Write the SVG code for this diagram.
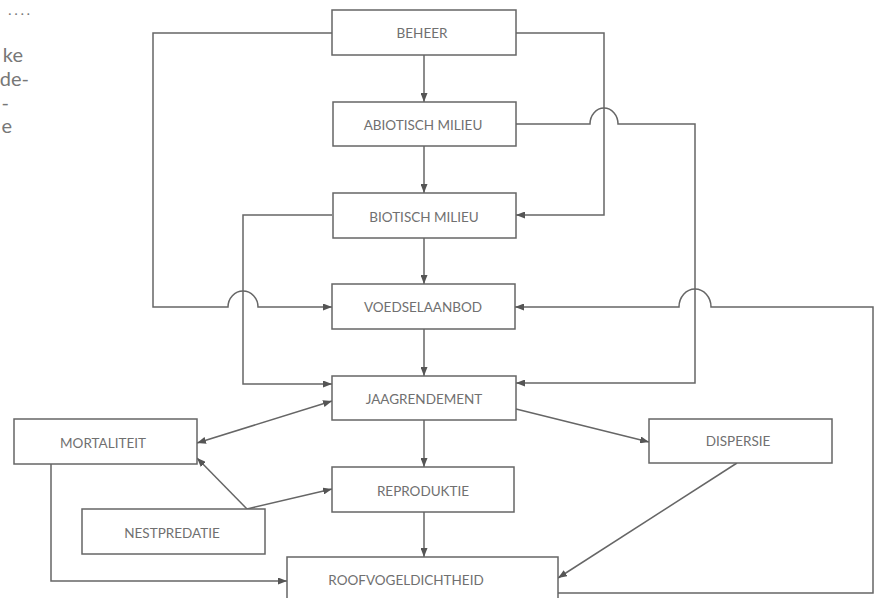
<svg xmlns="http://www.w3.org/2000/svg" width="875" height="598" viewBox="0 0 875 598">
<defs>
<marker id="ah" viewBox="0 0 9 7" refX="9" refY="3.5" markerWidth="9" markerHeight="7" markerUnits="userSpaceOnUse" orient="auto-start-reverse">
<path d="M0,0 L9,3.5 L0,7 z" fill="#555"/>
</marker>
<style>
.box{fill:#fff;stroke:#666;stroke-width:1.5}
.lbl{font-family:Lato,"Open Sans","Liberation Sans",sans-serif;font-size:13.5px;fill:#707070;text-anchor:middle}
.side{font-family:Lato,"Open Sans","Liberation Sans",sans-serif;font-size:20px;fill:#777;text-anchor:end}
.c{fill:none;stroke:#666;stroke-width:1.5}
.a{marker-end:url(#ah)}
</style>
</defs>
<rect width="875" height="598" fill="#fff"/>
<g id="side-text">
<text class="side" x="30" y="18" style="font-size:12px">· · · ·</text>
<text class="side" x="23" y="62">ke</text>
<text class="side" x="29" y="86">de-</text>
<text class="side" x="9" y="110">-</text>
<text class="side" x="12" y="133">e</text>
</g>
<g id="connectors">
<path class="c a" d="M424,55 V102"/>
<path class="c a" d="M424,146 V193"/>
<path class="c a" d="M424,238 V284"/>
<path class="c a" d="M424,329 V376"/>
<path class="c a" d="M424,420 V467"/>
<path class="c a" d="M424,512 V557"/>
<path class="c a" d="M332,33 H153 V307 H228 A15,16 0 0 1 258,307 H332"/>
<path class="c a" d="M516,33 H604 V215 H516"/>
<path class="c a" d="M516,124 H590 A14,16 0 0 1 618,124 H695 V383 H516"/>
<path class="c a" d="M332,215 H243 V384 H332"/>
<path class="c a" d="M558,593 H873 V307 H711 A16,18 0 0 0 679,307 H515"/>
<path class="c a" d="M332,401 L197,443" marker-start="url(#ah)"/>
<path class="c a" d="M516,409 L649,442"/>
<path class="c a" d="M247,509 L197,458"/>
<path class="c a" d="M247,509 L332,489"/>
<path class="c a" d="M51,464 V581 H287"/>
<path class="c a" d="M737,463 L558,578"/>
</g>
<g id="beheer"><rect class="box" x="332" y="10" width="184" height="45"/><text class="lbl" x="422" y="38">BEHEER</text></g>
<g id="abiotisch"><rect class="box" x="333" y="102" width="183" height="44"/><text class="lbl" x="423" y="130">ABIOTISCH MILIEU</text></g>
<g id="biotisch"><rect class="box" x="333" y="193" width="183" height="45"/><text class="lbl" x="424" y="222">BIOTISCH MILIEU</text></g>
<g id="voedselaanbod"><rect class="box" x="332" y="284" width="183" height="45"/><text class="lbl" x="423" y="312">VOEDSELAANBOD</text></g>
<g id="jaagrendement"><rect class="box" x="332" y="376" width="184" height="44"/><text class="lbl" x="424" y="404">JAAGRENDEMENT</text></g>
<g id="reproduktie"><rect class="box" x="332" y="467" width="182" height="45"/><text class="lbl" x="423" y="496">REPRODUKTIE</text></g>
<g id="roofvogeldichtheid"><rect class="box" x="287" y="557" width="271" height="50"/><text class="lbl" x="406" y="585">ROOFVOGELDICHTHEID</text></g>
<g id="mortaliteit"><rect class="box" x="14" y="419" width="183" height="45"/><text class="lbl" x="103" y="448">MORTALITEIT</text></g>
<g id="nestpredatie"><rect class="box" x="82" y="509" width="183" height="45"/><text class="lbl" x="172" y="538">NESTPREDATIE</text></g>
<g id="dispersie"><rect class="box" x="649" y="419" width="183" height="44"/><text class="lbl" x="738" y="446">DISPERSIE</text></g>
</svg>
